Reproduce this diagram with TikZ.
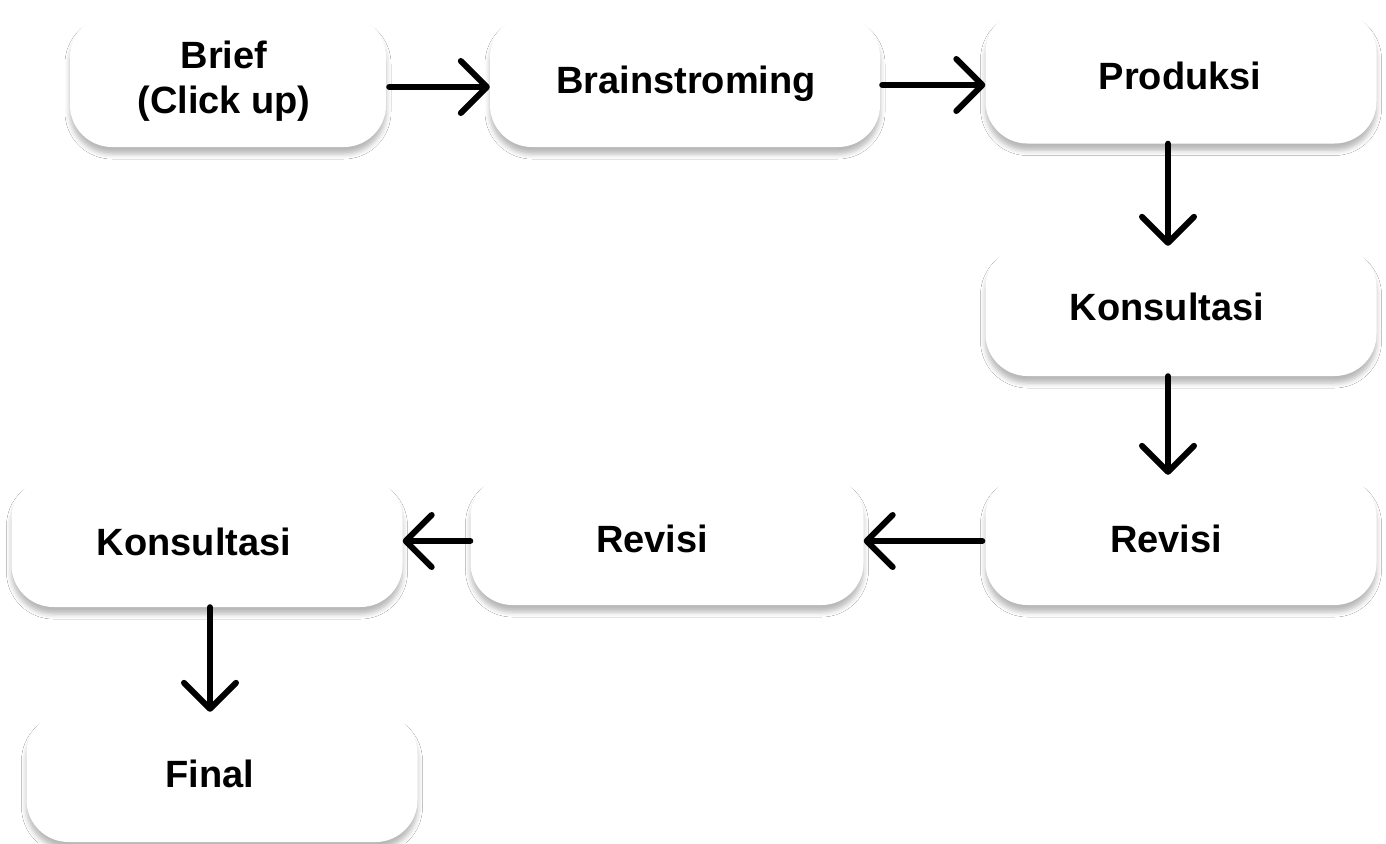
\documentclass[tikz,border=0pt]{standalone}
\usepackage{fontspec}
\setmainfont{Liberation Sans}
\usetikzlibrary{arrows.meta,shadows.blur}
\tikzset{
  box/.style={rectangle, rounded corners=42pt, fill=white, draw=none,
    minimum width=391pt, minimum height=131pt, inner sep=0pt,
    blur shadow={shadow xshift=0pt, shadow yshift=-7pt, shadow blur radius=5pt, shadow opacity=28}},
  lbl/.style={anchor=base, inner sep=0pt, font=\bfseries\fontsize{38}{48}\selectfont, align=center},
  arr/.style={line width=6pt, line cap=round, -{Straight Barb[length=26pt, width=52pt, round]}},
}
\begin{document}
\begin{tikzpicture}[x=1pt, y=-1pt]
\useasboundingbox[fill=white] (0,0) rectangle (1386,843);
% boxes
\node[box, minimum width=316pt, minimum height=132pt] (b1) at (228,81) {};
\node[box, minimum width=390pt, minimum height=132pt] (b2) at (685,81) {};
\node[box, minimum height=133pt] (b3) at (1181,77) {};
\node[box, minimum height=130pt] (b4) at (1181,311) {};
\node[box, minimum height=130pt] (b5) at (1181,540) {};
\node[box, minimum width=393pt, minimum height=130pt] (b6) at (667,540) {};
\node[box, minimum height=130pt] (b7) at (207,542) {};
\node[box, minimum height=130pt] (b8) at (222,777) {};
% labels
\node[lbl] (t1a) at (224,68) {Brief};
\node[lbl] (t1b) at (224,113) {(Click up)};
\node[lbl] (t2) at (686,93) {Brainstroming};
\node[lbl] (t3) at (1180,89) {Produksi};
\node[lbl] (t4) at (1167,320) {Konsultasi};
\node[lbl] (t5) at (1166,552) {Revisi};
\node[lbl] (t6) at (652,552) {Revisi};
\node[lbl] (t7) at (194,555) {Konsultasi};
\node[lbl] (t8) at (210,787) {Final};
% arrows
\draw[arr] ([xshift=3pt,yshift=-6pt]b1.east) -- ([yshift=-6pt]b1.east -| b2.west);
\draw[arr] ([xshift=2pt,yshift=-4pt]b2.east) -- ([yshift=-4pt]b2.east -| b3.west);
\draw[arr] ([xshift=-13pt]b3.south) -- ([xshift=-13pt]b3.south |- b4.north);
\draw[arr] ([xshift=-13pt]b4.south) -- ([xshift=-13pt]b4.south |- b5.north);
\draw[arr] ([xshift=-3pt,yshift=-1pt]b5.west) -- ([yshift=-1pt]b5.west -| b6.east);
\draw[arr] ([yshift=-1pt]b6.west) -- ([yshift=-1pt]b6.west -| b7.east);
\draw[arr] ([xshift=3pt]b7.south) -- ([xshift=3pt]b7.south |- b8.north);
\end{tikzpicture}
\end{document}
